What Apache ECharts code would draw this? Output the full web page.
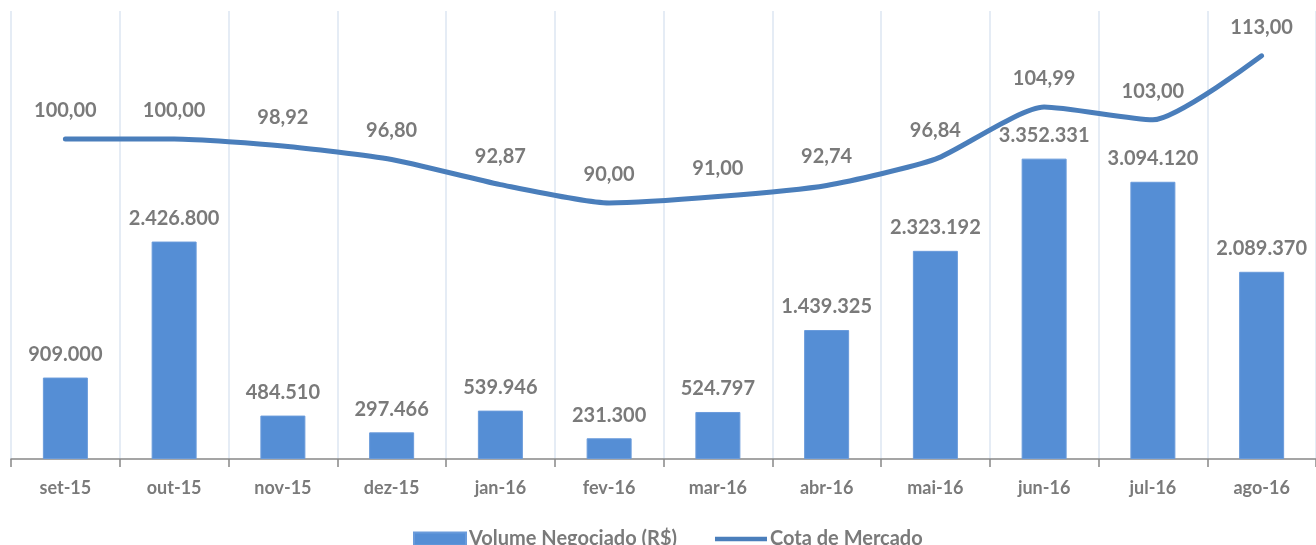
<!DOCTYPE html>
<html>
<head>
<meta charset="utf-8">
<script src="https://cdn.jsdelivr.net/npm/echarts@6/dist/echarts.min.js"></script>
<style>
  html, body { margin: 0; padding: 0; background: #fff; }
  #chart { width: 1316px; height: 545px; }
</style>
</head>
<body>
<div id="chart"></div>
<script>
const categories = ['set-15', 'out-15', 'nov-15', 'dez-15', 'jan-16', 'fev-16', 'mar-16', 'abr-16', 'mai-16', 'jun-16', 'jul-16', 'ago-16']
const volume = [909000, 2426800, 484510, 297466, 539946, 231300, 524797, 1439325, 2323192, 3352331, 3094120, 2089370]
const cota = [100.00, 100.00, 98.92, 96.80, 92.87, 90.00, 91.00, 92.74, 96.84, 104.99, 103.00, 113.00]

const textGray = '#7a7a7a'
const lineBlue = '#4a7ebb'
const font = 'Lato, "Liberation Sans", sans-serif'

// 2426800 -> 2.426.800
const fmtVolume = v => String(v).replace(/\B(?=(\d{3})+(?!\d))/g, '.')
// 98.92 -> 98,92
const fmtCota = v => v.toFixed(2).replace('.', ',')

const chart = echarts.init(document.getElementById('chart'))

chart.setOption({
  backgroundColor: '#fff',
  animation: false,
  textStyle: { fontFamily: font },
  grid: { left: 11, right: -5, top: 11, bottom: 86 },
  legend: {
    top: 524,
    left: 408,
    itemGap: 38,
    itemWidth: 52,
    itemHeight: 13,
    textStyle: { color: textGray, fontSize: 20, fontWeight: 'bold', fontFamily: font, padding: [0, 0, 0, -2] },
    data: [
      { name: 'Volume Negociado (R$)', icon: 'rect' },
      { name: 'Cota de Mercado', icon: 'path://M0,0h60v5h-60z', itemStyle: { color: lineBlue } },
    ],
  },
  xAxis: {
    type: 'category',
    data: categories,
    boundaryGap: true,
    axisLine: { lineStyle: { color: '#888', width: 1.5 } },
    axisTick: { show: true, length: 8, lineStyle: { color: '#888', width: 1.5 } },
    axisLabel: { color: textGray, fontSize: 18, fontWeight: 'bold', margin: 20, fontFamily: font },
    splitLine: { show: true, lineStyle: { color: '#dce6f2', width: 1.5 } },
  },
  yAxis: [
    { type: 'value', min: 0, max: 5000000, show: false, splitLine: { show: false } },
    { type: 'value', min: 50, max: 120, show: false, splitLine: { show: false } },
  ],
  series: [
    {
      name: 'Volume Negociado (R$)',
      type: 'bar',
      yAxisIndex: 0,
      data: volume,
      barWidth: 45,
      itemStyle: { color: '#558ed5', borderColor: '#6a9bdb', borderWidth: 1 },
      label: {
        show: true,
        position: 'top',
        distance: 13,
        color: textGray,
        fontSize: 20,
        fontWeight: 'bold',
        fontFamily: font,
        formatter: p => fmtVolume(p.value),
      },
      z: 2,
    },
    {
      name: 'Cota de Mercado',
      type: 'line',
      yAxisIndex: 1,
      data: cota,
      smooth: 0.2,
      symbol: 'circle',
      symbolSize: 1,
      lineStyle: { color: lineBlue, width: 5, cap: 'round' },
      itemStyle: { color: lineBlue },
      label: {
        show: true,
        position: 'top',
        distance: 18,
        color: textGray,
        fontSize: 20,
        fontWeight: 'bold',
        fontFamily: font,
        formatter: p => fmtCota(p.value),
      },
      z: 3,
    },
  ],
})
</script>
</body>
</html>
